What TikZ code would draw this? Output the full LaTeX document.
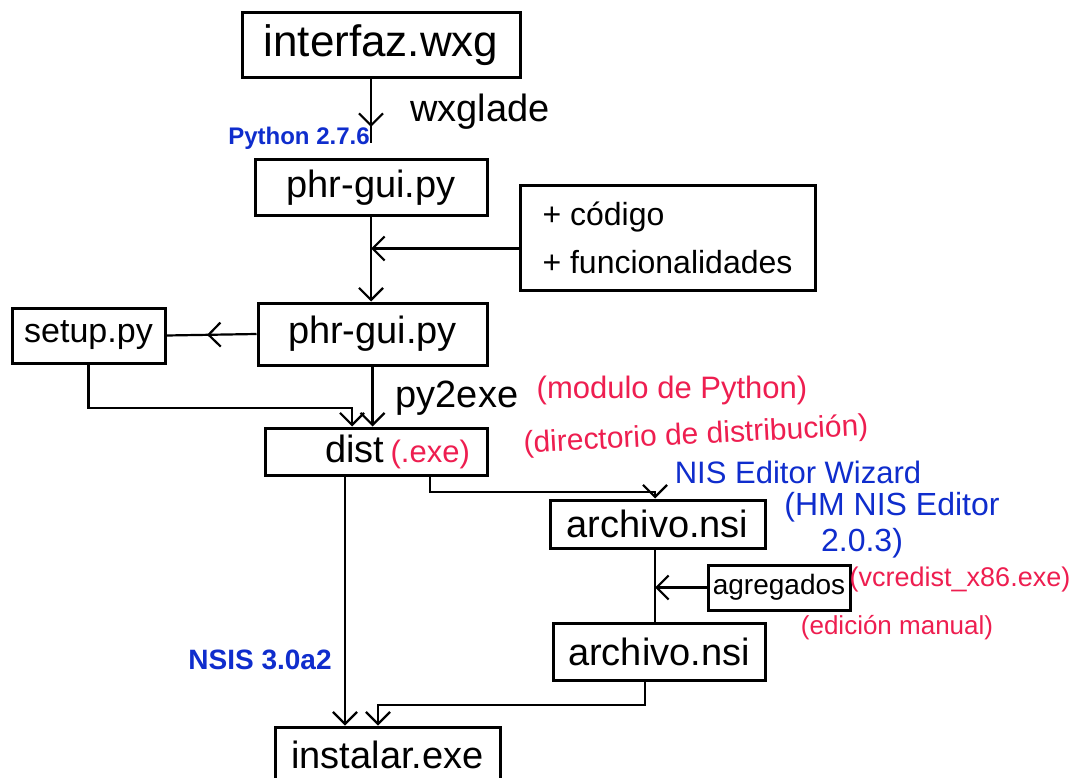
\documentclass[tikz,border=0pt]{standalone}
\usepackage{fontspec}
\setmainfont{Liberation Sans}
\usetikzlibrary{arrows.meta,decorations.markings,calc}
\definecolor{inkblue}{RGB}{15,45,205}
\definecolor{inkred}{RGB}{238,30,80}
\begin{document}
\begin{tikzpicture}[x=1pt,y=-1pt,
 box/.style={draw,line width=3pt,inner sep=0pt,font=\fontsize{38}{40}\selectfont},
 conn/.style={line width=2.2pt},
 arr/.style={conn,-{Straight Barb[length=12pt,width=24pt]}},
 midarr/.style={conn,postaction={decorate},decoration={markings,mark=at position #1 with {\arrow{Straight Barb[length=12pt,width=24pt]}}}},
 blk/.style={font=\fontsize{38}{40}\selectfont},
 redt/.style={text=inkred,font=\fontsize{31}{34}\selectfont},
 bluet/.style={text=inkblue,font=\fontsize{31}{34}\selectfont}]
\useasboundingbox (0,0) rectangle (1083,778);
\fill[white] (0,0) rectangle (1083,778);
% boxes
\node[box,minimum width=278pt,minimum height=65pt,font=\fontsize{44}{46}\selectfont] (interfaz) at (381,45.5) {interfaz.wxg};
\node[box,minimum width=232pt,minimum height=55pt] (phr1) at (371,187.5) {phr-gui.py};
\node[box,minimum width=295pt,minimum height=105pt,align=left,font=\fontsize{32}{48}\selectfont] (code) at (667.5,237.5) {+ código\\+ funcionalidades};
\node[box,minimum width=229pt,minimum height=62pt] (phr2) at (372.5,334) {phr-gui.py};
\node[box,minimum width=153pt,minimum height=55pt,font=\fontsize{34}{36}\selectfont] (setup) at (88.5,335.5) {setup.py};
\node[box,minimum width=222pt,minimum height=47pt] (dist) at (376,451.5) {\hspace*{43pt}dist\,\textcolor{inkred}{\fontsize{31}{34}\selectfont(.exe)}};
\node[box,minimum width=215pt,minimum height=48pt] (arch1) at (657.5,524) {archivo.nsi};
\node[box,minimum width=142pt,minimum height=45pt,font=\fontsize{28}{30}\selectfont] (agreg) at (779,587.5) {agregados};
\node[box,minimum width=212pt,minimum height=57pt] (arch2) at (659,651.5) {archivo.nsi};
\node[box,minimum width=225pt,minimum height=56pt] (inst) at (387.5,755) {instalar.exe};
% labels
\node[blk] (wxg) at (480,112) {wxglade};
\node[text=inkblue,font=\bfseries\fontsize{24}{26}\selectfont] (py276) at (299,138) {Python 2.7.6};
\node[blk] (p2e) at (457,398) {py2exe};
\node[redt] (modpy) at (672,390) {(modulo de Python)};
\node[redt,rotate=3,font=\fontsize{30}{32}\selectfont] (dirdist) at (696,436) {(directorio de distribución)};
\node[bluet] (nisw) at (798,472) {NIS Editor Wizard};
\node[bluet,font=\fontsize{32}{34}\selectfont] (hm1) at (892,507) {(HM NIS Editor};
\node[bluet,font=\fontsize{32}{34}\selectfont] (hm2) at (862,543) {2.0.3)};
\node[redt,font=\fontsize{27}{30}\selectfont] (vcr) at (960,580) {(vcredist\_x86.exe)};
\node[redt,font=\fontsize{26}{30}\selectfont] (edm) at (897,628) {(edición manual)};
\node[text=inkblue,font=\bfseries\fontsize{28}{30}\selectfont] (nsis) at (260,660) {NSIS 3.0a2};
% coordinates
\coordinate (k1) at (352,408);
\coordinate (k2) at (430,492);
\coordinate (k3) at (655,492);
\coordinate (k4) at (645,705);
\coordinate (k5) at (378,705);
\coordinate (k6) at (345,600);
% connectors
\draw[midarr=0.6,shorten >=15pt] (phr1.north |- interfaz.south) -- (phr1.north);
\draw[arr] (phr1.south) -- (phr1.south |- phr2.north);
\draw[arr] ([yshift=-11pt]code.west) -- ([yshift=-11pt]code.west -| phr1.south);
\draw[midarr=0.55] (phr2.west) -- (setup.east);
\draw[arr] (setup.south) |- (k1) -- (k1 |- dist.north);
\draw[arr] (phr2.south) -- (phr2.south |- dist.north);
\draw[arr] (k2 |- dist.south) -- (k2) -- (k3) -- (k3 |- arch1.north);
\draw[conn] (k3 |- arch1.south) -- (k3 |- arch2.north);
\draw[arr] (agreg.west) -- (agreg.west -| k3);
\draw[arr] (k4 |- arch2.south) -- (k4) -- (k5) -- (k5 |- inst.north);
\draw[arr] (k6 |- dist.south) -- (k6 |- inst.north);
\end{tikzpicture}
\end{document}
